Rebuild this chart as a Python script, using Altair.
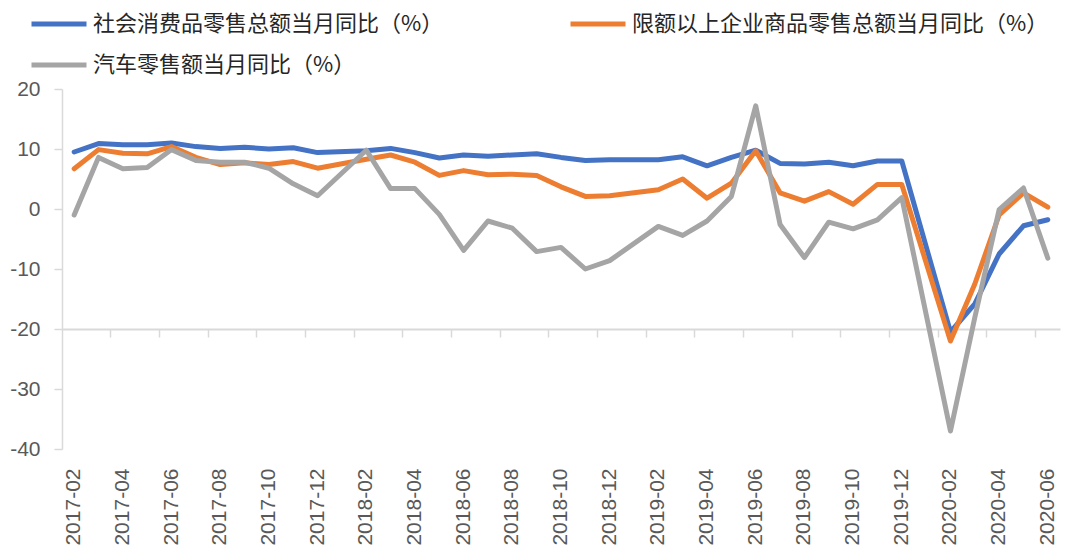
import altair as alt
import pandas as pd

months = [
    "2017-02", "2017-03", "2017-04", "2017-05", "2017-06", "2017-07", "2017-08",
    "2017-09", "2017-10", "2017-11", "2017-12", "2018-01", "2018-02", "2018-03",
    "2018-04", "2018-05", "2018-06", "2018-07", "2018-08", "2018-09", "2018-10",
    "2018-11", "2018-12", "2019-01", "2019-02", "2019-03", "2019-04", "2019-05",
    "2019-06", "2019-07", "2019-08", "2019-09", "2019-10", "2019-11", "2019-12",
    "2020-01", "2020-02", "2020-03", "2020-04", "2020-05", "2020-06",
]

series_names = [
    "社会消费品零售总额当月同比（%）",
    "限额以上企业商品零售总额当月同比（%）",
    "汽车零售额当月同比（%）",
]

retail_total = [
    9.5, 10.9, 10.7, 10.7, 11.0, 10.4, 10.1, 10.3, 10.0, 10.2, 9.4, None,
    9.7, 10.1, 9.4, 8.5, 9.0, 8.8, 9.0, 9.2, 8.6, 8.1, 8.2, None,
    8.2, 8.7, 7.2, 8.6, 9.8, 7.6, 7.5, 7.8, 7.2, 8.0, 8.0, None,
    -20.5, -15.8, -7.5, -2.8, -1.8,
]
retail_above_quota = [
    6.7, 9.9, 9.3, 9.2, 10.4, 8.6, 7.4, 7.7, 7.4, 7.9, 6.8, None,
    8.3, 9.0, 7.8, 5.6, 6.4, 5.7, 5.8, 5.6, 3.7, 2.1, 2.2, None,
    3.2, 5.0, 1.8, 4.3, 9.7, 2.7, 1.3, 2.9, 0.8, 4.1, 4.1, None,
    -22.0, -12.5, -1.0, 2.7, 0.3,
]
auto_retail = [
    -1.0, 8.6, 6.7, 6.9, 9.9, 8.1, 7.8, 7.8, 6.8, 4.2, 2.2, None,
    9.8, 3.4, 3.4, -0.9, -6.9, -2.0, -3.2, -7.1, -6.4, -10.0, -8.6, None,
    -2.9, -4.4, -2.0, 2.1, 17.2, -2.6, -8.1, -2.2, -3.3, -1.8, 1.9, None,
    -37.0, -18.1, -0.1, 3.5, -8.2,
]

colors = ["#4472C4", "#ED7D31", "#A5A5A5"]
y_ticks = [-40, -30, -20, -10, 0, 10, 20]
label_months = months[0::2]
tick_months = months[2::2]

rows = []
for name, vals in zip(series_names, [retail_total, retail_above_quota, auto_retail]):
    for m, v in zip(months, vals):
        if v is not None:
            rows.append({"month": m, "series": name, "value": v})
df = pd.DataFrame(rows)

x_scale = alt.Scale(type="band", domain=months, paddingInner=0, paddingOuter=0)
y_scale = alt.Scale(domain=[-40, 20], nice=False, zero=False)
y_axis = alt.Axis(
    orient="left", values=y_ticks, grid=False, title=None,
    domainColor="#D9D9D9", domainWidth=1.5,
    tickColor="#D9D9D9", tickWidth=1.5, tickSize=8,
    labelPadding=14, labelFont="Liberation Sans", labelFontSize=21,
    labelColor="#595959", labelExpr="'' + datum.value",
)

base = alt.Chart(df)

tick_layer = base.mark_point(opacity=0).encode(
    x=alt.X(
        "month:O", scale=x_scale,
        axis=alt.Axis(
            orient="bottom", values=tick_months, bandPosition=0, labels=False,
            title=None, ticks=True, tickSize=8, tickColor="#D9D9D9",
            tickWidth=1.5, domain=True, domainColor="#D9D9D9", domainWidth=2,
            offset=-120,
        ),
    ),
    y=alt.Y("value:Q", scale=y_scale, axis=y_axis),
)

lines = base.mark_line(strokeWidth=5, strokeCap="round", strokeJoin="round").encode(
    x=alt.X(
        "month:O", scale=x_scale, bandPosition=0.5,
        axis=alt.Axis(
            orient="bottom", values=label_months, labelAngle=-90, ticks=False,
            domain=False, title=None, labelPadding=19,
            labelFont="Liberation Sans", labelFontSize=21,
            labelColor="#595959", labelOverlap=False,
        ),
    ),
    y=alt.Y("value:Q", scale=y_scale, axis=y_axis),
    color=alt.Color(
        "series:N",
        scale=alt.Scale(domain=series_names, range=colors),
        legend=alt.Legend(
            title=None, orient="none", legendX=-33, legendY=-95,
            direction="horizontal", columns=2, symbolType="stroke",
            symbolSize=3025, symbolStrokeWidth=5, labelFont="Noto Sans CJK SC",
            labelFontSize=22, labelColor="#262626", labelLimit=0,
            columnPadding=116, rowPadding=0, labelOffset=4, padding=0,
        ),
    ),
)

chart = (
    alt.layer(tick_layer, lines)
    .resolve_axis(x="independent")
    .properties(
        width=998, height=360,
        autosize=alt.AutoSizeParams(type="none"),
        padding={"left": 54, "top": 81, "right": 10, "bottom": 100},
    )
    .configure_view(stroke=None)
)

chart.save("out.html", embed_options={"renderer": "svg", "actions": False})
